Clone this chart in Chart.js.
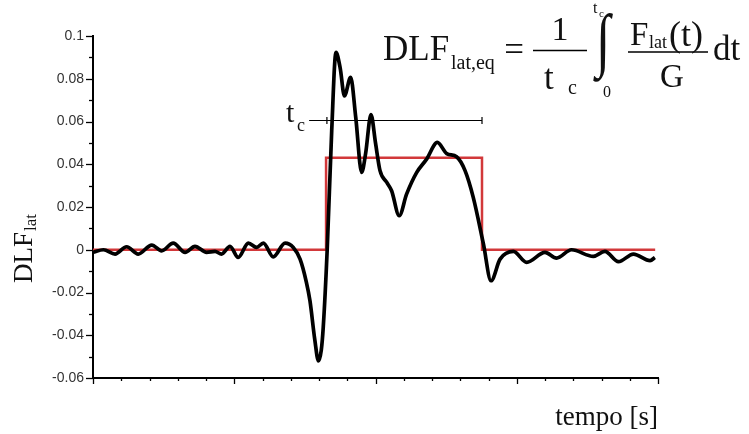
<!DOCTYPE html>
<html>
<head>
<meta charset="utf-8">
<script src="https://cdn.jsdelivr.net/npm/chart.js@4.4.0/dist/chart.umd.min.js"></script>
<style>
  html, body { margin: 0; padding: 0; background: #fff; }
  canvas { display: block; }
</style>
</head>
<body>
<canvas id="chart" width="749" height="434"></canvas>
<script>
// time axis (arbitrary units, no labels in the original)
const timeValues = [0, 0.37, 0.78, 1.19, 1.6, 2.08, 2.43, 2.84, 3.26, 3.61, 4.02, 4.32, 4.55, 4.85, 5.14, 5.5, 5.79, 6.03, 6.38, 6.8, 7.09, 7.33, 7.55, 7.68, 7.85, 7.98, 8.08, 8.15, 8.29, 8.45, 8.6, 8.75, 8.9, 9.12, 9.3, 9.51, 9.65, 9.84, 10.0, 10.16, 10.4, 10.57, 10.84, 11.1, 11.46, 11.81, 12.19, 12.52, 12.87, 13.17, 13.46, 13.82, 14.09, 14.41, 14.88, 15.35, 16.0, 16.41, 16.94, 17.71, 18.12, 18.6, 19.13, 19.72, 19.89];
const dlfValues = [-0.0012, 0.0, -0.002, 0.0014, -0.002, 0.0022, -0.0005, 0.0031, -0.0012, 0.0016, -0.0012, -0.0008, -0.002, 0.0016, -0.0036, 0.0031, 0.0011, 0.0031, -0.0033, 0.0031, 0.0011, -0.0044, -0.015, -0.0239, -0.042, -0.052, -0.047, -0.0363, 0.0, 0.0557, 0.0923, 0.085, 0.072, 0.0806, 0.062, 0.0362, 0.045, 0.0632, 0.05, 0.037, 0.0315, 0.0276, 0.0159, 0.026, 0.0362, 0.0424, 0.0502, 0.045, 0.0435, 0.037, 0.0245, 0.0027, -0.0145, -0.0044, -0.0008, -0.0059, -0.0012, -0.0039, 0.0, -0.0031, -0.0008, -0.0056, -0.002, -0.0051, -0.0036];

// equivalent step (DLF_lat,eq over t_c)
const stepTimes = [0, 8.25, 8.25, 13.77, 13.77, 19.9];
const stepValues = [0, 0, 0.043, 0.043, 0, 0];

// t_c marker
const tcStart = 7.65;
const tcTicks = [8.28, 13.77];
const tcLevel = 0.0605;

const yTicks = [-0.06, -0.04, -0.02, 0, 0.02, 0.04, 0.06, 0.08, 0.1];
const yTickLabels = ['-0.06', '-0.04', '-0.02', '0', '0.02', '0.04', '0.06', '0.08', '0.1'];

const serif = '"Liberation Serif", "Times New Roman", serif';

function txt(ctx, s, x, y, size, align) {
    ctx.font = size + 'px ' + serif;
    ctx.textAlign = align || 'left';
    ctx.fillText(s, x, y);
}

// minor/major ticks, annotations and formula
const decorPlugin = {
    id: 'decor',
    afterDraw(chart) {
        const ctx = chart.ctx;
        const xs = chart.scales.x;
        const ys = chart.scales.y;
        const area = chart.chartArea;
        ctx.save();
        ctx.strokeStyle = '#000';
        ctx.fillStyle = '#000';
        ctx.lineWidth = 1.3;

        // y ticks (left, outward)
        for (let i = 0; i <= 16; i++) {
            const v = -0.06 + i * 0.01;
            const py = Math.round(ys.getPixelForValue(v)) + 0.5;
            const len = i % 2 === 0 ? 7 : 4;
            ctx.beginPath();
            ctx.moveTo(area.left - len, py);
            ctx.lineTo(area.left, py);
            ctx.stroke();
        }
        // x ticks (down, outward)
        for (let i = 0; i <= 20; i++) {
            const px = Math.round(xs.getPixelForValue(i)) + 0.5;
            const len = i % 5 === 0 ? 6 : 3;
            ctx.beginPath();
            ctx.moveTo(px, area.bottom);
            ctx.lineTo(px, area.bottom + len);
            ctx.stroke();
        }

        // t_c bar
        const ly = Math.round(ys.getPixelForValue(tcLevel)) + 0.5;
        ctx.lineWidth = 1.2;
        ctx.beginPath();
        ctx.moveTo(xs.getPixelForValue(tcStart), ly);
        ctx.lineTo(xs.getPixelForValue(tcTicks[1]), ly);
        tcTicks.forEach(t => {
            const px = xs.getPixelForValue(t);
            ctx.moveTo(px, ly - 3.5);
            ctx.lineTo(px, ly + 3.5);
        });
        ctx.stroke();
        ctx.fillStyle = '#111';
        ctx.textBaseline = 'alphabetic';
        txt(ctx, 't', 286, 122, 30);
        txt(ctx, 'c', 297, 131, 18);

        // formula
        txt(ctx, 'DLF', 383, 60, 35);
        txt(ctx, 'lat,eq', 451, 69, 20);
        txt(ctx, '=', 514, 61, 35, 'center');
        txt(ctx, '1', 560, 40, 34, 'center');
        ctx.lineWidth = 1.5;
        ctx.beginPath();
        ctx.moveTo(533, 50.5); ctx.lineTo(587, 50.5);
        ctx.moveTo(628, 52); ctx.lineTo(708, 52);
        ctx.stroke();
        txt(ctx, 't', 544, 89, 35);
        txt(ctx, 'c', 568, 94, 20);
        ctx.save();
        ctx.translate(603, 63);
        ctx.scale(1, 1.35);
        txt(ctx, '\u222B', 0, 0, 52, 'center');
        ctx.restore();
        txt(ctx, 't', 593, 13, 16);
        txt(ctx, 'c', 599, 17, 11);
        txt(ctx, '0', 603, 97, 16);
        txt(ctx, 'F', 630, 45, 33);
        txt(ctx, 'lat', 649, 48, 18);
        txt(ctx, '(t)', 669, 46, 36);
        txt(ctx, 'G', 672, 87, 33, 'center');
        txt(ctx, 'dt', 713, 60, 35);

        // axis titles
        txt(ctx, 'tempo [s]', 658, 425, 27, 'right');
        ctx.save();
        ctx.translate(32, 283);
        ctx.rotate(-Math.PI / 2);
        txt(ctx, 'DLF', 0, 0, 27);
        ctx.font = '27px ' + serif;
        const w = ctx.measureText('DLF').width;
        txt(ctx, 'lat', w + 1, 4, 17);
        ctx.restore();

        ctx.restore();
    }
};

const ctx = document.getElementById('chart').getContext('2d');
new Chart(ctx, {
    type: 'line',
    data: {
        datasets: [{
            label: 'DLF lat',
            data: timeValues.map((t, i) => ({ x: t, y: dlfValues[i] })),
            borderColor: '#000',
            borderWidth: 3.7,
            pointRadius: 0,
            cubicInterpolationMode: 'monotone',
            fill: false
        }, {
            label: 'DLF lat,eq',
            data: stepTimes.map((t, i) => ({ x: t, y: stepValues[i] })),
            borderColor: '#d2383a',
            borderWidth: 2.5,
            pointRadius: 0,
            tension: 0,
            fill: false
        }]
    },
    options: {
        responsive: false,
        animation: false,
        layout: { padding: { top: 36, right: 91, left: 0, bottom: 0 } },
        plugins: {
            legend: { display: false },
            tooltip: { enabled: false }
        },
        scales: {
            x: {
                type: 'linear',
                min: 0,
                max: 20,
                grid: { display: false },
                border: { display: true, color: '#000', width: 2 },
                ticks: { display: false },
                afterFit: s => { s.height = 56; }
            },
            y: {
                min: -0.06,
                max: 0.1,
                grid: { display: false, drawTicks: false },
                border: { display: true, color: '#000', width: 2 },
                afterBuildTicks: s => { s.ticks = yTicks.map(v => ({ value: v })); },
                ticks: {
                    padding: 9,
                    color: '#333',
                    font: { family: '"Liberation Sans", Arial, sans-serif', size: 14 },
                    callback: (v) => {
                        const i = yTicks.findIndex(t => Math.abs(t - v) < 1e-9);
                        return i >= 0 ? yTickLabels[i] : '';
                    }
                },
                afterFit: s => { s.width = 93; }
            }
        }
    },
    plugins: [decorPlugin]
});
</script>
</body>
</html>
